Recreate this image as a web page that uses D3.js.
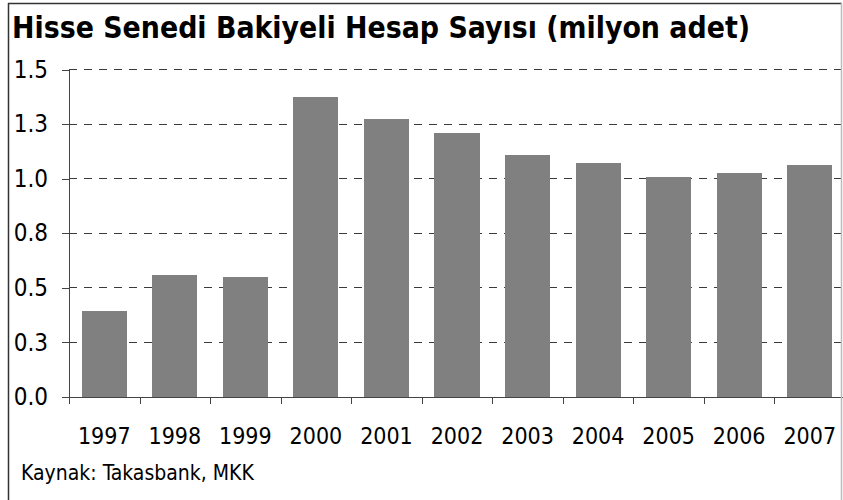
<!DOCTYPE html>
<html>
<head>
<meta charset="utf-8">
<script src="https://cdn.jsdelivr.net/npm/d3@7"></script>
<style>
  body { margin: 0; background: #fff; }
  svg { display: block; }
  text { font-family: "DejaVu Sans Condensed", "DejaVu Sans", sans-serif; }
</style>
</head>
<body>
<svg id="drawing_region"></svg>
<script>
// data
const years = ['1997', '1998', '1999', '2000', '2001', '2002', '2003', '2004', '2005', '2006', '2007'];
const accounts = [0.394, 0.559, 0.551, 1.375, 1.273, 1.209, 1.109, 1.072, 1.008, 1.026, 1.063];
const yTicks = [0, 0.25, 0.5, 0.75, 1.0, 1.25, 1.5];
const yTickLabels = ['0.0', '0.3', '0.5', '0.8', '1.0', '1.3', '1.5'];
const title = 'Hisse Senedi Bakiyeli Hesap Sayısı (milyon adet)';
const source = 'Kaynak: Takasbank, MKK';

const width = 843, height = 500;
const margin = { top: 69.5, right: -2, bottom: 103, left: 69 };

const svg = d3.select('#drawing_region')
    .attr('width', width)
    .attr('height', height);

const innerW = width - margin.left - margin.right;
const innerH = height - margin.top - margin.bottom;

const chart = svg.append('g')
    .attr('transform', `translate(${margin.left}, ${margin.top})`);

const xscale = d3.scaleBand()
    .domain(years)
    .range([0, innerW])
    .paddingInner(0.36)
    .paddingOuter(0.18);

// boundaries between categories, for the tick marks
const xedges = d3.scaleLinear()
    .domain([0, years.length])
    .range([0, innerW]);

const yscale = d3.scaleLinear()
    .domain([0, 1.5])
    .range([innerH, 0]);

// dashed gridlines
chart.append('g')
    .selectAll('line')
    .data(yTicks.filter(d => d > 0))
    .join('line')
    .attr('x1', 0)
    .attr('x2', 772)
    .attr('y1', d => yscale(d))
    .attr('y2', d => yscale(d))
    .attr('stroke', '#3a3a3a')
    .attr('stroke-width', 1)
    .attr('stroke-dasharray', '8,7')
    .attr('shape-rendering', 'crispEdges');

// bars
chart.selectAll('rect.bar')
    .data(years)
    .join('rect')
    .attr('class', 'bar')
    .attr('x', d => xscale(d))
    .attr('y', (d, i) => yscale(accounts[i]))
    .attr('width', xscale.bandwidth())
    .attr('height', (d, i) => innerH - yscale(accounts[i]))
    .attr('fill', '#808080')
    .attr('shape-rendering', 'crispEdges');

// y axis
const yaxis = d3.axisLeft(yscale)
    .tickValues(yTicks)
    .tickFormat((d, i) => yTickLabels[i])
    .tickSize(7)
    .tickPadding(14)
    .tickSizeOuter(0);

const yg = chart.append('g').call(yaxis);
yg.selectAll('line, path').attr('stroke', '#444').attr('shape-rendering', 'crispEdges');
yg.selectAll('text')
    .attr('fill', '#000')
    .style('font-size', '24px')
    .style('font-family', '"DejaVu Sans Condensed", "DejaVu Sans", sans-serif');

// x axis: line + boundary ticks
const xtickaxis = d3.axisBottom(xedges)
    .tickValues(d3.range(0, years.length + 1))
    .tickFormat('')
    .tickSize(7)
    .tickSizeOuter(0);

const xg = chart.append('g')
    .attr('transform', `translate(0, ${innerH})`)
    .call(xtickaxis);
xg.selectAll('line, path').attr('stroke', '#444').attr('shape-rendering', 'crispEdges');

// x axis: category labels
const xlabelaxis = d3.axisBottom(xscale)
    .tickSize(0)
    .tickPadding(31);

const xl = chart.append('g')
    .attr('transform', `translate(0, ${innerH})`)
    .call(xlabelaxis);
xl.select('path').remove();
xl.selectAll('text')
    .attr('fill', '#000')
    .style('font-size', '23px')
    .style('font-family', '"DejaVu Sans Condensed", "DejaVu Sans", sans-serif');

// title
svg.append('text')
    .attr('x', 12)
    .attr('y', 38)
    .attr('textLength', 738)
    .attr('lengthAdjust', 'spacingAndGlyphs')
    .style('font-size', '30px')
    .style('font-weight', 'bold')
    .attr('fill', '#000')
    .text(title);

// source note
svg.append('text')
    .attr('x', 21)
    .attr('y', 480)
    .style('font-size', '21px')
    .attr('fill', '#000')
    .text(source);

// frame
svg.append('line')
    .attr('x1', 8).attr('x2', 842).attr('y1', 3.5).attr('y2', 3.5)
    .attr('stroke', '#333').attr('stroke-width', 1.5);
svg.append('line')
    .attr('x1', 8.5).attr('x2', 8.5).attr('y1', 3).attr('y2', height)
    .attr('stroke', '#333').attr('stroke-width', 1.5);
svg.append('line')
    .attr('x1', 841.5).attr('x2', 841.5).attr('y1', 3).attr('y2', height)
    .attr('stroke', '#bbb').attr('stroke-width', 1.5);
</script>
</body>
</html>
